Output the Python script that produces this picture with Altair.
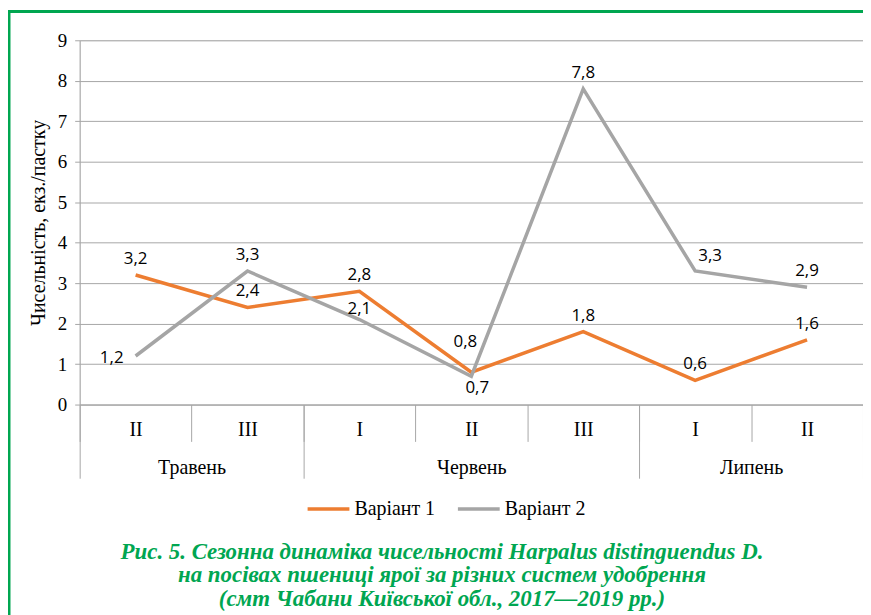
import altair as alt
import pandas as pd

# ---- data ----
decades = ["II", "III", "I", "II", "III", "I", "II"]
months = ["Травень", "Травень", "Червень", "Червень", "Червень", "Липень", "Липень"]
variant1 = [3.2, 2.4, 2.8, 0.8, 1.8, 0.6, 1.6]
variant2 = [1.2, 3.3, 2.1, 0.7, 7.8, 3.3, 2.9]
series_names = ["Варіант 1", "Варіант 2"]
series_colors = ["#ED7D31", "#A5A5A5"]
y_title = "Чисельність, екз./пастку"
caption = [
    "Рис. 5. Сезонна динаміка чисельності Harpalus distinguendus D.",
    "на посівах пшениці ярої за різних систем удобрення",
    "(смт Чабани Київської обл., 2017—2019 рр.)",
]

rows = []
for name, vals in zip(series_names, [variant1, variant2]):
    for i, v in enumerate(vals):
        rows.append({"series": name, "idx": i, "pos": i + 0.5, "value": v,
                     "label": f"{v:.1f}".replace(".", ",")})
df = pd.DataFrame(rows)

n = len(decades)
# month boundaries and centres derived from the month list
bounds = [0] + [i for i in range(1, n) if months[i] != months[i - 1]] + [n]
centres = [(bounds[k] + bounds[k + 1]) / 2 for k in range(len(bounds) - 1)]
month_names = [months[b] for b in bounds[:-1]]

GRAY = "#A6A6A6"
SERIF = "Liberation Serif"
FS = 20
xscale = alt.Scale(domain=[0, n], nice=False, zero=False)
yscale = alt.Scale(domain=[0, 9], nice=False)

yenc = alt.Y("value:Q", scale=yscale,
             axis=alt.Axis(values=list(range(10)), title=y_title, grid=True,
                           gridColor=GRAY, gridWidth=1, domainColor=GRAY,
                           tickColor=GRAY, tickSize=5, labelFont=SERIF,
                           labelFontSize=19, labelColor="#000", labelPadding=8,
                           titleFont=SERIF, titleFontSize=FS, titleFontWeight="normal",
                           titleColor="#000", titlePadding=9))

axisA = alt.Axis(orient="bottom", values=list(range(n + 1)), tickSize=37,
                 labels=False, domainColor=GRAY, tickColor=GRAY, grid=False, title=None)
axisB = alt.Axis(orient="bottom", values=bounds, tickSize=74, labels=False,
                 domain=False, tickColor=GRAY, grid=False, title=None)
dec_expr = "[" + ",".join(f"'{d}'" for d in decades) + "][floor(datum.value)]"
axisC = alt.Axis(orient="bottom", values=[i + 0.5 for i in range(n)], ticks=False,
                 domain=False, grid=False, labelExpr=dec_expr, labelFont=SERIF,
                 labelFontSize=FS, labelColor="#000", labelPadding=25,
                 labelBaseline="middle", title=None)
mon_expr = ("{" + ",".join(f"'{c:g}':'{m}'" for c, m in zip(centres, month_names)) +
            "}[''+datum.value]")
axisD = alt.Axis(orient="bottom", values=centres, ticks=False, domain=False,
                 grid=False, labelExpr=mon_expr, labelFont=SERIF, labelFontSize=FS,
                 labelColor="#000", labelPadding=63, labelBaseline="middle",
                 title=None)

color = alt.Color("series:N", scale=alt.Scale(domain=series_names, range=series_colors),
                  legend=alt.Legend(title=None, orient="none", legendX=227, legendY=448,
                                    direction="horizontal", symbolType="stroke",
                                    symbolSize=1764, symbolStrokeWidth=3.5,
                                    labelFont=SERIF, labelFontSize=FS,
                                    labelColor="#000", labelOffset=3,
                                    columnPadding=15))

base = alt.Chart(df)

lines = base.mark_line(strokeWidth=3.5).encode(
    x=alt.X("pos:Q", scale=xscale, axis=axisA), y=yenc, color=color)

# label offsets for points whose label is not simply above
special = {("Варіант 2", 0): (-24, 2), ("Варіант 2", 2): (0, -11),
           ("Варіант 1", 3): (-6, -30), ("Варіант 2", 3): (6, 12),
           ("Варіант 2", 5): (15, -15)}
cond_special = " || ".join(f"(datum.series=='{s}' && datum.idx=={i})" for s, i in special)

txt_kw = dict(font="Open Sans", fontSize=17, color="#000", baseline="middle", align="center")
labels_default = base.transform_filter(f"!({cond_special})").mark_text(dy=-16, **txt_kw).encode(
    x=alt.X("pos:Q", scale=xscale, axis=axisB), y=yenc, text="label:N")

layers = [lines, labels_default]
axes_extra = [axisC, axisD]
for k, ((s, i), (dx, dy)) in enumerate(special.items()):
    ax = axes_extra[k] if k < len(axes_extra) else None
    layers.append(
        base.transform_filter(f"datum.series=='{s}' && datum.idx=={i}")
        .mark_text(dx=dx, dy=dy, **txt_kw)
        .encode(x=alt.X("pos:Q", scale=xscale, axis=ax), y=yenc, text="label:N"))

one = pd.DataFrame({"k": [0]})
GREEN = "#00A650"
frame_top = alt.Chart(one).mark_rule(color=GREEN, strokeWidth=3).encode(
    x=alt.value(-72), x2=alt.value(800), y=alt.value(-29))
frame_left = alt.Chart(one).mark_rule(color=GREEN, strokeWidth=3).encode(
    x=alt.value(-71), y=alt.value(-30), y2=alt.value(620))

cap_layers = []
for k, line in enumerate(caption):
    cap_layers.append(
        alt.Chart(one).mark_text(font=SERIF, fontSize=23, fontStyle="italic",
                                 fontWeight="bold", color="#00A651", align="center",
                                 baseline="middle")
        .encode(x=alt.value(364), y=alt.value(514 + 23.5 * k), text=alt.value(line)))

chart = alt.layer(*layers, frame_top, frame_left, *cap_layers).resolve_scale(
    x="independent").resolve_axis(x="independent").properties(
    width=787, height=366,
    autosize=alt.AutoSizeParams(type="none"),
    padding={"left": 72, "top": 31, "right": 0, "bottom": 210},
).configure_view(stroke=None).configure(background="white").configure_axis(
    labelFont=SERIF, titleFont=SERIF)

chart.save("out.html", embed_options={"renderer": "svg", "actions": False})
